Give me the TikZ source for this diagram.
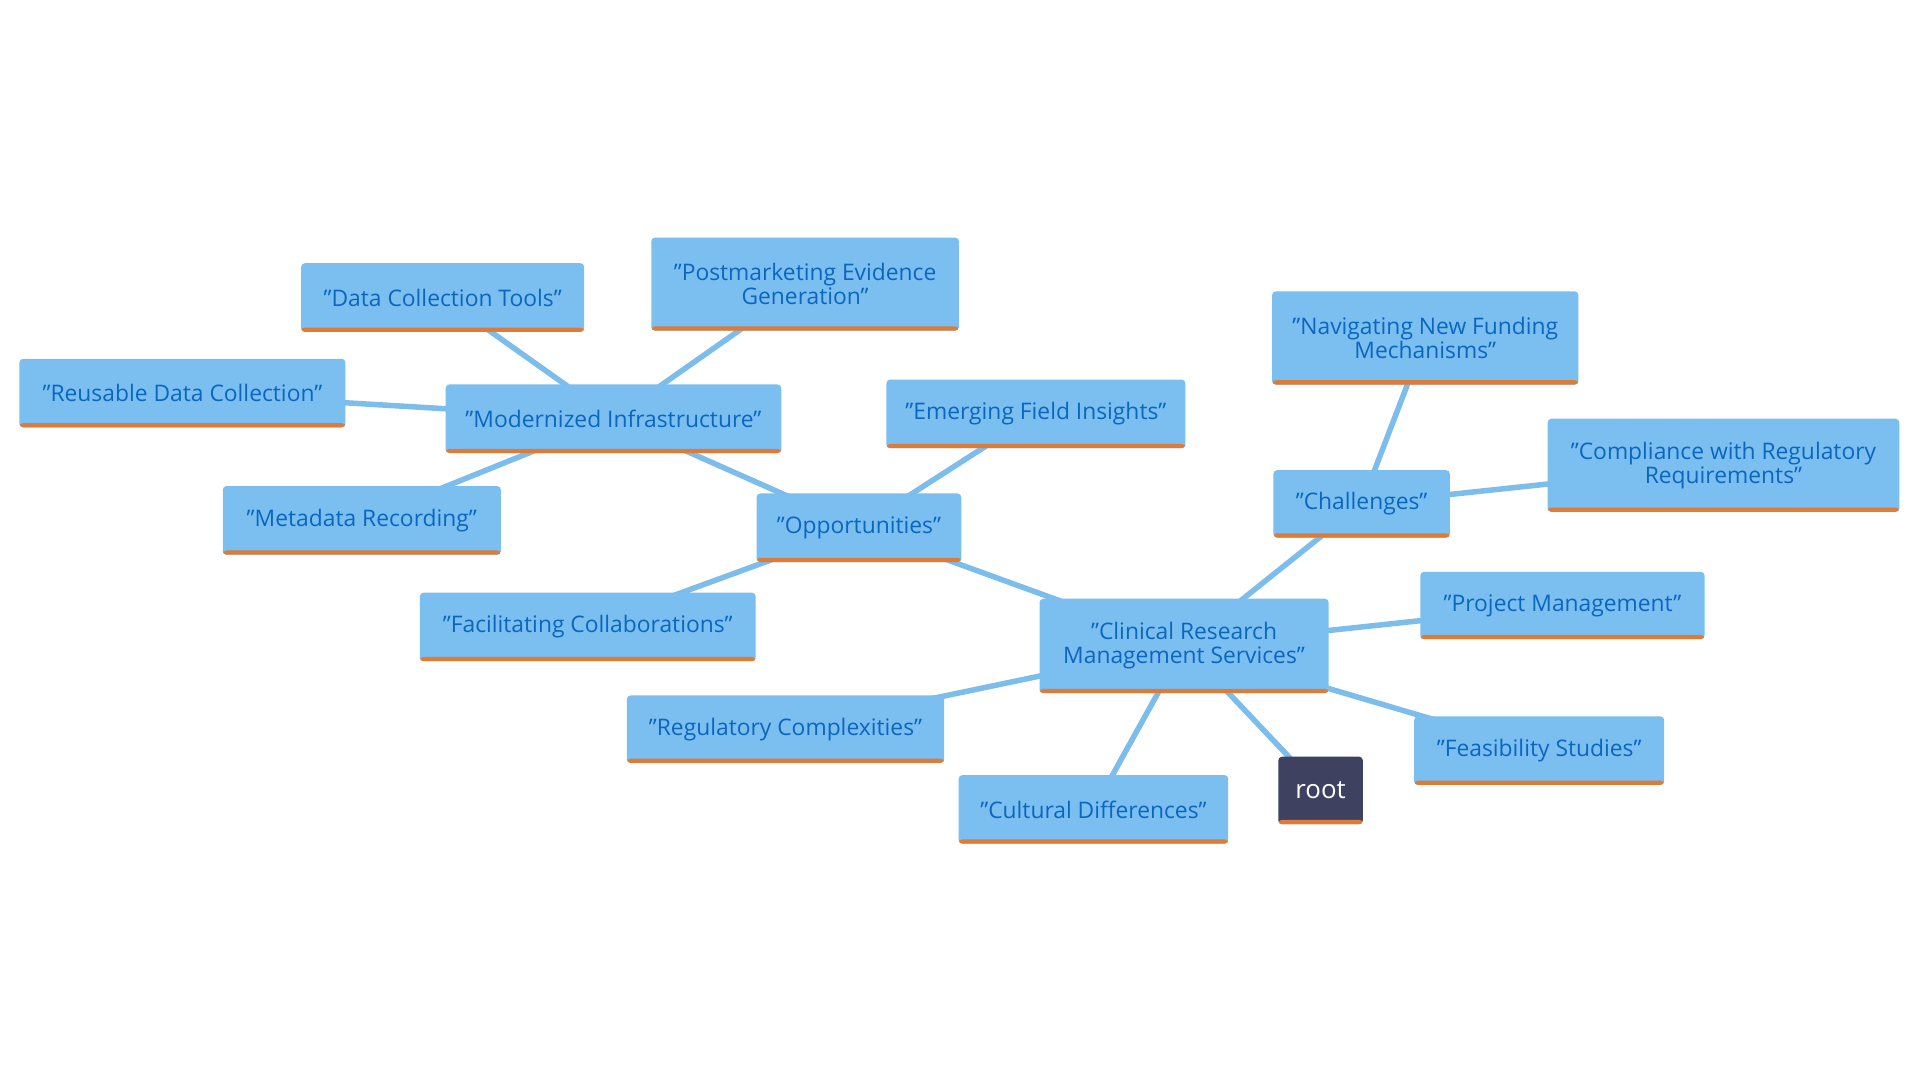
\documentclass[tikz,border=0pt]{standalone}
\usepackage{fontspec}
\setmainfont{Open Sans}
\usetikzlibrary{backgrounds}
\definecolor{boxblue}{HTML}{7BBFF1}
\definecolor{txtblue}{HTML}{0B66BE}
\definecolor{edgeblue}{HTML}{7DBDEB}
\definecolor{barorange}{HTML}{E07B35}
\definecolor{rootdark}{HTML}{3E4260}
\tikzset{
  topic/.style={fill=boxblue, text=txtblue, rounded corners=0.03cm, align=center,
    inner sep=0pt, font=\fontsize{5.3}{5.6}\selectfont,
    path picture={\fill[barorange] (path picture bounding box.south west) rectangle ([yshift=0.035cm]path picture bounding box.south east);}},
  rootbox/.style={topic, fill=rootdark, text=white},
  link/.style={edgeblue, line width=0.045cm}
}
\begin{document}
\begin{tikzpicture}[x=0.01cm, y=-0.01cm]
\useasboundingbox (0,0) rectangle (1568,882);

% main topic
\node[topic, minimum width=2.36cm, minimum height=0.77cm] (crms) at (967,527.5) {"Clinical Research\\Management Services"};

% right branch
\node[topic, minimum width=1.44cm, minimum height=0.55cm] (chal) at (1112,411.5) {"Challenges"};
\node[topic, minimum width=2.50cm, minimum height=0.76cm] (fund) at (1164,276) {"Navigating New Funding\\Mechanisms"};
\node[topic, minimum width=2.87cm, minimum height=0.76cm] (comp) at (1407.5,380) {"Compliance with Regulatory\\Requirements"};
\node[topic, minimum width=2.32cm, minimum height=0.55cm] (proj) at (1276,494.5) {"Project Management"};
\node[topic, minimum width=2.04cm, minimum height=0.56cm] (feas) at (1257,613) {"Feasibility Studies"};
\node[rootbox, minimum width=0.69cm, minimum height=0.55cm, font=\fontsize{6}{7}\selectfont] (root) at (1078.5,645.5) {root};
\node[topic, minimum width=2.20cm, minimum height=0.56cm] (cult) at (893,661) {"Cultural Differences"};
\node[topic, minimum width=2.59cm, minimum height=0.55cm] (regu) at (641.5,595.5) {"Regulatory Complexities"};

% left branch
\node[topic, minimum width=1.67cm, minimum height=0.56cm] (opp) at (701.5,431) {"Opportunities"};
\node[topic, minimum width=2.74cm, minimum height=0.56cm] (coll) at (480,512) {"Facilitating Collaborations"};
\node[topic, minimum width=2.44cm, minimum height=0.56cm] (emer) at (846,338) {"Emerging Field Insights"};
\node[topic, minimum width=2.74cm, minimum height=0.56cm] (infra) at (501,342) {"Modernized Infrastructure"};
\node[topic, minimum width=2.51cm, minimum height=0.76cm] (post) at (657.5,232) {"Postmarketing Evidence\\Generation"};
\node[topic, minimum width=2.31cm, minimum height=0.56cm] (tools) at (361.5,243) {"Data Collection Tools"};
\node[topic, minimum width=2.66cm, minimum height=0.56cm] (reuse) at (149,321) {"Reusable Data Collection"};
\node[topic, minimum width=2.27cm, minimum height=0.56cm] (meta) at (295.5,425) {"Metadata Recording"};

\begin{scope}[on background layer]
\foreach \a/\b in {crms/opp, crms/chal, crms/proj, crms/feas, crms/root, crms/cult, crms/regu,
    chal/fund, chal/comp, opp/infra, opp/emer, opp/coll,
    infra/post, infra/tools, infra/reuse, infra/meta}
  \draw[link] (\a.center) -- (\b.center);
\end{scope}
\end{tikzpicture}
\end{document}
